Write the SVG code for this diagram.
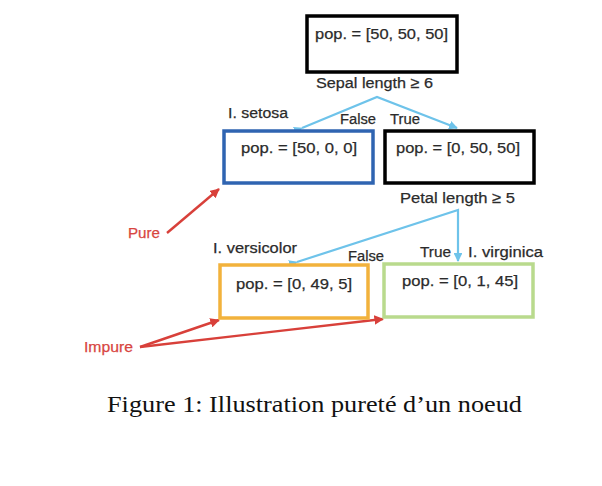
<svg xmlns="http://www.w3.org/2000/svg" width="602" height="486" viewBox="0 0 602 486">
<style>
.t{font-family:"Liberation Sans",Arial,sans-serif;font-size:15.5px;fill:#2b2b2b;stroke:#2b2b2b;stroke-width:0.25}
.r{font-family:"Liberation Sans",Arial,sans-serif;font-size:15.5px;fill:#d8453f;stroke:#d8453f;stroke-width:0.25}
.box{fill:#fff;stroke-width:3.5}
.blue{fill:none;stroke:#6ec3ea;stroke-width:2.2}
.red{fill:none;stroke:#d8403a;stroke-width:2.4}
.cap{font-family:"Liberation Serif","Times New Roman",serif;font-size:22.5px;fill:#111}
</style>
<defs>
<marker id="ab" viewBox="0 0 10 10" refX="9" refY="5" markerWidth="4" markerHeight="4" orient="auto"><path d="M0,0L10,5L0,10z" fill="#6ec3ea"/></marker>
<marker id="ar" viewBox="0 0 10 10" refX="9" refY="5" markerWidth="4" markerHeight="4" orient="auto"><path d="M0,0L10,5L0,10z" fill="#d8403a"/></marker>
</defs>
<rect width="602" height="486" fill="#fff"/>
<g id="connectors">
<polyline class="blue" points="302,128 377,97 457,128" marker-start="url(#ab)" marker-end="url(#ab)"/>
<polyline class="blue" points="297,262 458,210 458,261" marker-start="url(#ab)" marker-end="url(#ab)"/>
<line class="red" x1="167" y1="233" x2="219" y2="189" marker-end="url(#ar)"/>
<line class="red" x1="140" y1="347" x2="219" y2="320" marker-end="url(#ar)"/>
<line class="red" x1="140" y1="347" x2="383" y2="319" marker-end="url(#ar)"/>
</g>
<g id="root">
<rect class="box" x="307" y="16" width="150" height="56" stroke="#000"/>
<text class="t" x="315" y="39" textLength="133" lengthAdjust="spacingAndGlyphs">pop. = [50, 50, 50]</text>
<text class="t" x="316" y="88" textLength="117" lengthAdjust="spacingAndGlyphs">Sepal length ≥ 6</text>
</g>
<g id="setosa">
<rect class="box" x="224" y="131" width="149" height="52" stroke="#2f64b1"/>
<text class="t" x="241" y="153" textLength="116" lengthAdjust="spacingAndGlyphs">pop. = [50, 0, 0]</text>
<text class="t" x="228" y="118" textLength="60" lengthAdjust="spacingAndGlyphs">I. setosa</text>
<text class="t" x="340" y="124" textLength="36" lengthAdjust="spacingAndGlyphs">False</text>
</g>
<g id="right">
<rect class="box" x="385" y="131" width="149" height="52" stroke="#000"/>
<text class="t" x="396" y="153" textLength="124" lengthAdjust="spacingAndGlyphs">pop. = [0, 50, 50]</text>
<text class="t" x="390" y="124" textLength="30" lengthAdjust="spacingAndGlyphs">True</text>
<text class="t" x="400" y="203" textLength="115" lengthAdjust="spacingAndGlyphs">Petal length ≥ 5</text>
</g>
<g id="versicolor">
<rect class="box" x="220" y="265" width="148" height="53" stroke="#f2b23c"/>
<text class="t" x="236" y="289" textLength="116" lengthAdjust="spacingAndGlyphs">pop. = [0, 49, 5]</text>
<text class="t" x="213" y="253" textLength="84" lengthAdjust="spacingAndGlyphs">I. versicolor</text>
<text class="t" x="348" y="261" textLength="36" lengthAdjust="spacingAndGlyphs">False</text>
</g>
<g id="virginica">
<rect class="box" x="384" y="264" width="149" height="53" stroke="#b9da8d"/>
<text class="t" x="402" y="286" textLength="116" lengthAdjust="spacingAndGlyphs">pop. = [0, 1, 45]</text>
<text class="t" x="420" y="257" textLength="31" lengthAdjust="spacingAndGlyphs">True</text>
<text class="t" x="468" y="257" textLength="75" lengthAdjust="spacingAndGlyphs">I. virginica</text>
</g>
<g id="pure"><text class="r" x="128" y="238" textLength="32" lengthAdjust="spacingAndGlyphs">Pure</text></g>
<g id="impure"><text class="r" x="84" y="352" textLength="49" lengthAdjust="spacingAndGlyphs">Impure</text></g>
<text class="cap" x="107" y="412" textLength="415" lengthAdjust="spacingAndGlyphs">Figure 1: Illustration pureté d’un noeud</text>
</svg>
